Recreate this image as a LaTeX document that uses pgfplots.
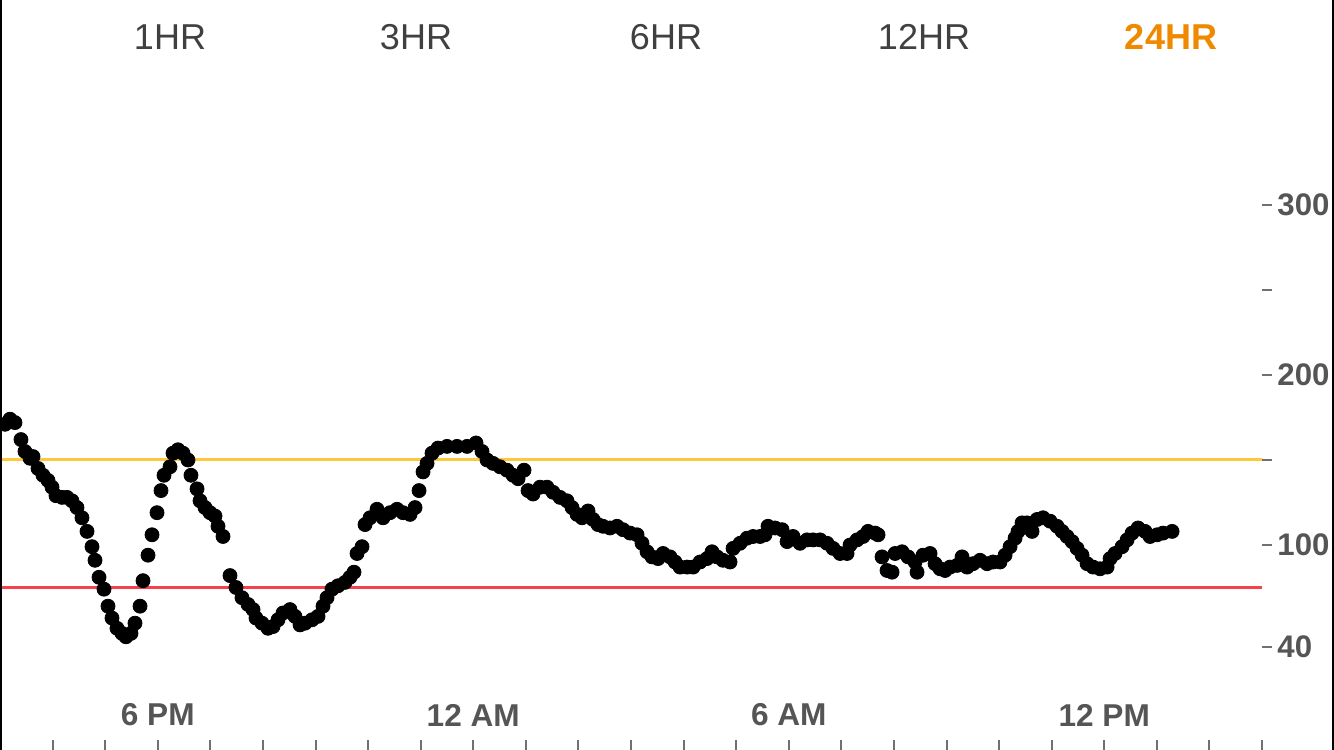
\documentclass[border=0pt]{standalone}
\usepackage{pgfplots}
\pgfplotsset{compat=1.18}
\usepackage{fontspec}
\setmainfont{Liberation Sans}
\definecolor{tabgray}{HTML}{404040}
\definecolor{lblgray}{HTML}{555555}
\definecolor{tickgray}{HTML}{707070}
\definecolor{hiyellow}{HTML}{FFC83C}
\definecolor{lored}{HTML}{F5404E}
\definecolor{taborange}{HTML}{EF8A00}
\begin{document}
\begin{tikzpicture}
  % 1 px of the screenshot = 0.5pt
  \begin{axis}[
    at={(0pt,0pt)}, anchor=south west,
    scale only axis,
    width=631pt, height=375pt,
    xmin=0, xmax=24,
    ymin=-20.6, ymax=420.6,
    clip=false,
    axis x line=bottom,
    axis y line=right,
    axis line style={draw=none},
    major tick length=5pt,
    xtick={1,...,24},
    xticklabels={,,6 PM,,,,,,12 AM,,,,,,6 AM,,,,,,12 PM,,,},
    ytick={40,100,150,200,250,300},
    yticklabels={40,100,,200,,300},
    x tick style={draw=tickgray, line width=1pt},
    y tick style={draw=tickgray, line width=0.6pt},
    xtick align=inside,
    ytick align=outside,
    xticklabel style={anchor=center, yshift=17.5pt, inner sep=0pt,
      font=\bfseries\fontsize{15.8}{18}\selectfont, text=lblgray},
    yticklabel style={anchor=west, inner sep=0pt, xshift=2.5pt,
      font=\bfseries\fontsize{15.6}{18}\selectfont, text=lblgray},
  ]
    % high and low limits
    \addplot[hiyellow, line width=1.5pt, forget plot] coordinates {(0,150) (24,150)};
    \addplot[lored, line width=1.5pt, forget plot] coordinates {(0,75) (24,75)};
    % readings (hours since 3 PM, mg/dL)
    \addplot[only marks, mark=*, mark size=3.5pt, black] coordinates {
      (0.095,171) (0.190,174) (0.285,172) (0.399,162) (0.475,155) (0.571,151)
      (0.628,152) (0.723,145) (0.818,141) (0.913,138) (0.989,134) (1.065,129)
      (1.179,128) (1.274,128) (1.369,126) (1.464,122) (1.559,116) (1.655,108)
      (1.750,99) (1.807,91) (1.883,81) (1.978,74) (2.054,64) (2.130,57)
      (2.225,51) (2.320,48) (2.396,46) (2.491,48) (2.567,54) (2.663,64)
      (2.720,79) (2.815,94) (2.891,106) (2.986,119) (3.062,132) (3.119,141)
      (3.233,146) (3.290,154) (3.385,156) (3.480,154) (3.575,150) (3.632,141)
      (3.747,133) (3.804,126) (3.899,122) (3.994,119) (4.089,117) (4.146,111)
      (4.241,105) (4.374,82) (4.488,75) (4.602,69) (4.717,65) (4.812,62)
      (4.869,57) (4.983,54) (5.097,51) (5.192,52) (5.287,56) (5.382,60)
      (5.515,62) (5.610,58) (5.706,53) (5.801,54) (5.934,56) (6.048,58)
      (6.143,64) (6.219,69) (6.314,74) (6.428,76) (6.561,78) (6.656,81)
      (6.732,84) (6.790,95) (6.885,99) (6.942,112) (7.037,116) (7.170,121)
      (7.284,116) (7.417,119) (7.550,121) (7.664,119) (7.798,118) (7.893,122)
      (7.969,132) (8.045,143) (8.121,148) (8.216,154) (8.330,157) (8.501,158)
      (8.692,158) (8.882,158) (9.053,160) (9.167,155) (9.262,150) (9.376,148)
      (9.509,146) (9.642,144) (9.757,141) (9.852,139) (9.966,144) (10.042,132)
      (10.137,130) (10.270,134) (10.403,134) (10.517,131) (10.650,128) (10.783,126)
      (10.879,122) (10.974,118) (11.069,116) (11.183,120) (11.278,115) (11.373,112)
      (11.468,111) (11.601,110) (11.734,111) (11.848,109) (11.982,107) (12.115,106)
      (12.210,101) (12.305,96) (12.400,93) (12.514,92) (12.609,95) (12.742,93)
      (12.838,90) (12.933,87) (13.066,87) (13.180,87) (13.313,90) (13.446,92)
      (13.541,96) (13.636,93) (13.750,91) (13.884,90) (13.941,98) (14.074,101)
      (14.207,104) (14.321,105) (14.454,105) (14.549,106) (14.606,111) (14.739,110)
      (14.873,109) (14.968,102) (15.082,105) (15.215,101) (15.348,103) (15.462,103)
      (15.595,103) (15.728,101) (15.842,98) (15.976,95) (16.109,95) (16.166,100)
      (16.299,103) (16.413,105) (16.508,108) (16.641,107) (16.698,106)
      (16.774,93) (16.869,85) (16.965,84) (17.022,95) (17.155,96) (17.269,93)
      (17.402,90) (17.440,84) (17.554,94) (17.687,95) (17.782,89) (17.878,86)
      (17.973,85) (18.068,87) (18.201,88) (18.296,93) (18.391,87) (18.505,89)
      (18.638,91) (18.771,89) (18.885,90) (19.018,90) (19.114,94) (19.209,99)
      (19.304,104) (19.361,108) (19.437,113) (19.532,113) (19.627,108) (19.722,115)
      (19.836,116) (19.970,114) (20.103,111) (20.198,108) (20.293,105) (20.388,102)
      (20.483,98) (20.578,94) (20.673,89) (20.787,87) (20.920,86) (21.054,87)
      (21.111,92) (21.206,95) (21.339,99) (21.434,103) (21.529,107) (21.643,110)
      (21.776,108) (21.871,105) (22.005,106) (22.119,107) (22.290,108)
    };
  \end{axis}
  % range selector
  \begin{scope}[font=\fontsize{18}{20}\selectfont, text=tabgray]
    \node at (85pt,356.5pt) {1HR};
    \node at (208pt,356.5pt) {3HR};
    \node at (333pt,356.5pt) {6HR};
    \node at (462pt,356.5pt) {12HR};
    \node[text=taborange, font=\bfseries\fontsize{18}{20}\selectfont] at (585.5pt,356.5pt) {24HR};
  \end{scope}
  % screen edges
  \draw[black, line width=1pt] (0.5pt,0pt) -- (0.5pt,375pt);
  \draw[black, line width=1pt] (666.5pt,0pt) -- (666.5pt,375pt);
  \pgfresetboundingbox
  \path[use as bounding box] (0pt,0pt) rectangle (667pt,375pt);
\end{tikzpicture}
\end{document}
